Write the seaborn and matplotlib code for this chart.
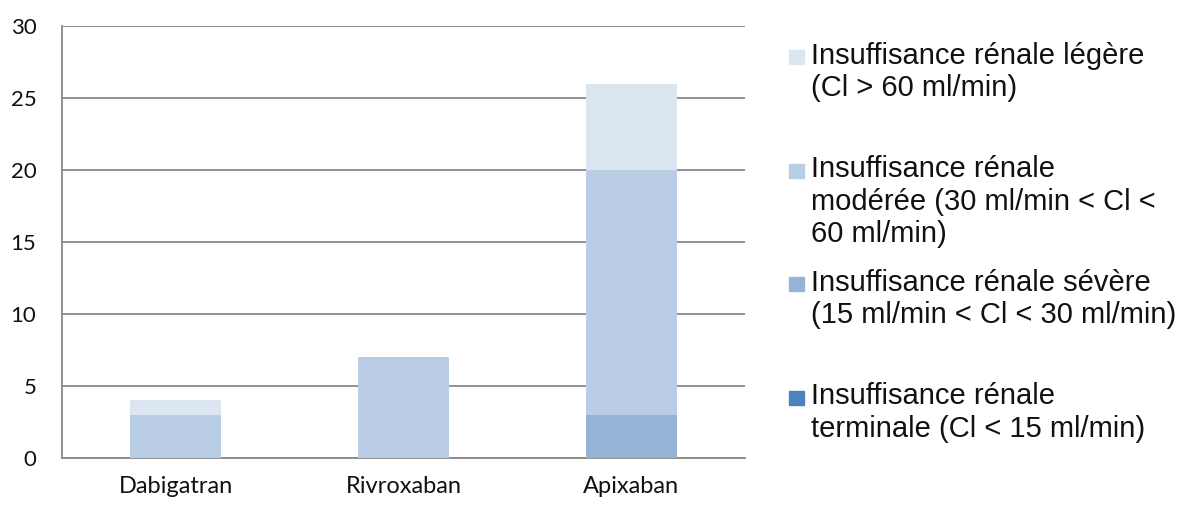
import numpy as np
import pandas as pd
import matplotlib
matplotlib.use("Agg")
import matplotlib.pyplot as plt
from matplotlib.patches import Rectangle
import seaborn as sns

drugs = ['Dabigatran', 'Rivroxaban', 'Apixaban']
terminale = [0, 0, 0]
severe = [0, 0, 3]
moderee = [3, 7, 17]
legere = [1, 0, 6]

series_names = ['Insuffisance rénale légère\n(Cl > 60 ml/min)',
                'Insuffisance rénale\nmodérée (30 ml/min < Cl <\n60 ml/min)',
                'Insuffisance rénale sévère\n(15 ml/min < Cl < 30 ml/min)',
                'Insuffisance rénale\nterminale (Cl < 15 ml/min)']
colors = ['#DCE6F1', '#B9CDE5', '#95B3D7', '#4F81BD']

sns.set_style('white')
plt.rcParams['font.family'] = ['Lato', 'DejaVu Sans']

fig = plt.figure(figsize=(11.81, 5.05), dpi=100)
ax = fig.add_axes([62/1181, 47/505, 683/1181, 432/505])

# stack from the bottom: terminale, severe, moderee, legere
stack = [(terminale, colors[3]), (severe, colors[2]), (moderee, colors[1]), (legere, colors[0])]
bottom = np.zeros(len(drugs))
for vals, col in stack:
    df = pd.DataFrame({'drug': drugs, 'n': vals})
    sns.barplot(data=df, x='drug', y='n', order=drugs, bottom=bottom, color=col,
                width=0.4, saturation=1, ax=ax, zorder=3, edgecolor='none')
    bottom = bottom + np.array(vals)

ax.set_xlim(-0.5, 2.5)
ax.set_ylim(0, 30)
ax.set_yticks(range(0, 31, 5))
ax.yaxis.grid(True, color='#888888', linewidth=1.3)
ax.set_axisbelow(True)
ax.set_xlabel('')
ax.set_ylabel('')
for s in ['top', 'right']:
    ax.spines[s].set_visible(False)
for s in ['left', 'bottom']:
    ax.spines[s].set_color('#888888')
    ax.spines[s].set_linewidth(1.3)
ax.tick_params(axis='y', length=6.5, width=1.3, color='#888888', labelsize=16, pad=12,
               labelcolor='#111111')
ax.tick_params(axis='x', which='major', length=0, labelsize=17, pad=13, labelcolor='#111111')
ax.set_xticks([-0.5, 0.5, 1.5, 2.5], minor=True)
ax.tick_params(axis='x', which='minor', length=6, width=1.3, color='#888888')

# legend entries, evenly spaced slots like the original
slot = 113.5 / 505
top = 1 - 42 / 505
for i, (name, col) in enumerate(zip(series_names, colors)):
    y = top - i * slot
    fig.patches.append(Rectangle((789/1181, y - 22/505), 15/1181, 14/505,
                                 transform=fig.transFigure, color=col))
    fig.text(811/1181, y, name, va='top', ha='left', fontsize=21,
             family=['Liberation Sans'], linespacing=1.2, color='#111111')

fig.savefig('out.png', dpi=100)
